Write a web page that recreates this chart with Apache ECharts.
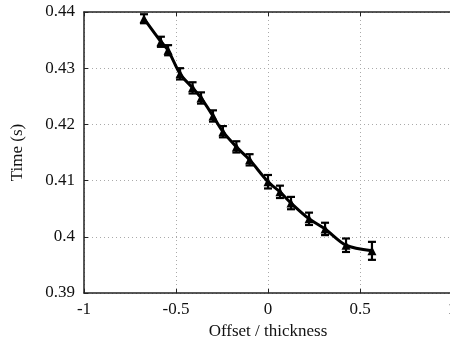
<!DOCTYPE html>
<html>
<head>
<meta charset="utf-8">
<script src="https://cdn.jsdelivr.net/npm/echarts@6/dist/echarts.min.js"></script>
<style>
  html, body { margin: 0; padding: 0; background: #fff; }
  #chart { width: 450px; height: 339px; }
</style>
</head>
<body>
<div id="chart"></div>
<script>
  // offset / thickness
  const xData = [-0.674, -0.582, -0.543, -0.478, -0.41, -0.364, -0.299, -0.245, -0.172, -0.1, 0, 0.065, 0.125, 0.223, 0.31, 0.424, 0.565];
  // time (s)
  const yData = [0.4388, 0.4347, 0.4332, 0.429, 0.4265, 0.4247, 0.4215, 0.4187, 0.416, 0.4137, 0.4098, 0.408, 0.406, 0.4032, 0.4014, 0.3985, 0.3975];
  // half error bar
  const errData = [0.0008, 0.0009, 0.0009, 0.001, 0.001, 0.001, 0.001, 0.001, 0.001, 0.001, 0.0012, 0.0011, 0.0011, 0.0011, 0.0011, 0.0012, 0.0016];
  const xTicks = [-1, -0.5, 0, 0.5, 1];
  const yTicks = [0.39, 0.4, 0.41, 0.42, 0.43, 0.44];

  const chart = echarts.init(document.getElementById("chart"));
  const font = "Liberation Serif";

  let points = xData.map((x, i) => [x, yData[i]]);
  let bars = xData.map((x, i) => [x, yData[i] - errData[i], yData[i] + errData[i]]);

  const axisCommon = {
    axisLine: { show: true, onZero: false, lineStyle: { color: "#222", width: 1.5 } },
    axisTick: { show: true, inside: true, length: 4, lineStyle: { color: "#222" } },
    splitLine: { show: true, lineStyle: { color: "#aaa", type: [1, 3], width: 1 } },
  };

  let option = {
    animation: false,
    grid: { left: 84, right: -2, top: 12, bottom: 46, outerBoundsMode: "none" },
    xAxis: [
      {
        type: "value",
        min: xTicks[0],
        max: xTicks[xTicks.length - 1],
        interval: 0.5,
        name: "Offset / thickness",
        nameLocation: "center",
        nameGap: 28,
        nameTextStyle: { fontFamily: font, fontSize: 17, color: "#111" },
        axisLabel: { fontFamily: font, fontSize: 17, color: "#111", margin: 8 },
        ...axisCommon,
      },
      {
        type: "value",
        position: "top",
        min: xTicks[0],
        max: xTicks[xTicks.length - 1],
        interval: 0.5,
        axisLabel: { show: false },
        axisLine: { show: true, onZero: false, lineStyle: { color: "#222", width: 1.5 } },
        axisTick: { show: true, inside: true, length: 4, lineStyle: { color: "#222" } },
        splitLine: { show: false },
      },
    ],
    yAxis: {
      type: "value",
      min: yTicks[0],
      max: yTicks[yTicks.length - 1],
      interval: 0.01,
      name: "Time (s)",
      nameLocation: "center",
      nameGap: 58,
      nameTextStyle: { fontFamily: font, fontSize: 17, color: "#111" },
      axisLabel: {
        fontFamily: font,
        fontSize: 17,
        color: "#111",
        margin: 9,
        formatter: (v) => String(Math.round(v * 100) / 100),
      },
      ...axisCommon,
    },
    series: [
      {
        name: "line",
        type: "line",
        data: points,
        smooth: 0.3,
        symbol: "triangle",
        symbolSize: 9,
        itemStyle: { color: "#000" },
        lineStyle: { color: "#000", width: 3 },
        z: 3,
      },
      {
        name: "err",
        type: "custom",
        data: bars,
        clip: true,
        renderItem: (params, api) => {
          const x = api.value(0);
          const lo = api.coord([x, api.value(1)]);
          const hi = api.coord([x, api.value(2)]);
          const w = 4;
          const style = { stroke: "#000", lineWidth: 2.2 };
          return {
            type: "group",
            children: [
              { type: "line", shape: { x1: lo[0], y1: lo[1], x2: hi[0], y2: hi[1] }, style },
              { type: "line", shape: { x1: lo[0] - w, y1: lo[1], x2: lo[0] + w, y2: lo[1] }, style },
              { type: "line", shape: { x1: hi[0] - w, y1: hi[1], x2: hi[0] + w, y2: hi[1] }, style },
            ],
          };
        },
        z: 4,
      },
    ],
  };
  chart.setOption(option);
</script>
</body>
</html>
